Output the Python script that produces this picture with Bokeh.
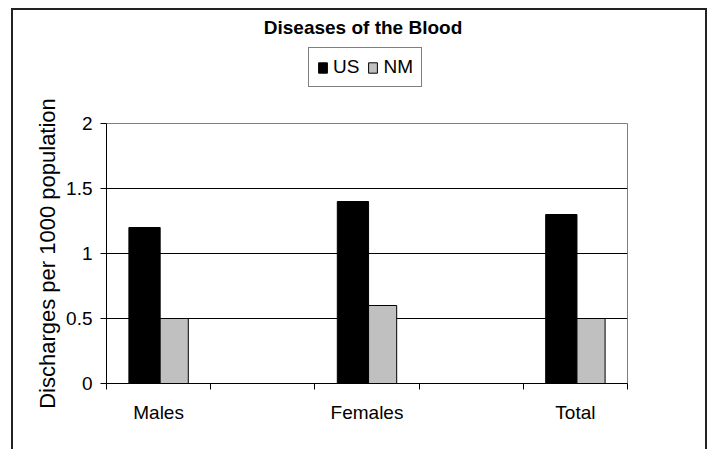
from bokeh.plotting import figure
from bokeh.layouts import column
from bokeh.models import (ColumnDataSource, FixedTicker, Legend, LegendItem,
                          Range1d, Label)
from bokeh.embed import file_html
from bokeh.resources import INLINE

# ---- data ----
categories = ["Males", "Females", "Total"]
us_values = [1.2, 1.4, 1.3]
nm_values = [0.5, 0.6, 0.5]
y_ticks = [0, 0.5, 1, 1.5, 2]
title_text = "Diseases of the Blood"
y_label = "Discharges per 1000 population"
series_names = ["US", "NM"]
series_colors = ["black", "#c0c0c0"]

FONT = "Liberation Sans"

# category slots: each category occupies 2 units, centred at 0.5, 2.5, 4.5
centers = [2 * i + 0.5 for i in range(len(categories))]
n_slots = 2 * len(categories) - 1
x_range = Range1d(0, n_slots)

src = ColumnDataSource(dict(
    x_us=[c - 0.135 for c in centers],
    x_nm=[c + 0.15 for c in centers],
    us=us_values,
    nm=nm_values,
))

# ---------------- header (title + legend) ----------------
HEAD_H = 80
head = figure(width=692, height=HEAD_H, output_backend="svg", toolbar_location=None,
              x_range=x_range, y_range=Range1d(-HEAD_H - 5, -5),
              x_axis_type=None, y_axis_type=None,
              min_border_left=93, min_border_right=78, min_border_top=0,
              min_border_bottom=0)
head.title = None
head.xgrid.grid_line_color = None
head.ygrid.grid_line_color = None
head.outline_line_color = None
head.background_fill_color = "white"
head.border_fill_color = "white"

# legend renderers: same bar styling, hidden in the header (only the legend shows)
h_us = head.vbar(x="x_us", top="us", width=0.3, source=src, visible=False,
                 fill_color=series_colors[0], line_color="black")
h_nm = head.vbar(x="x_nm", top="nm", width=0.27, source=src, visible=False,
                 fill_color=series_colors[1], line_color="black")

head.add_layout(Label(x=n_slots / 2, y=-22, x_offset=-4,
                      text=title_text, text_align="center", text_baseline="middle",
                      text_font=FONT, text_font_size="19px", text_font_style="bold",
                      text_color="black"))

legend = Legend(items=[LegendItem(label=series_names[0], renderers=[h_us]),
                       LegendItem(label=series_names[1], renderers=[h_nm])],
                orientation="horizontal", location=(202, 3),
                glyph_width=11, glyph_height=13, label_standoff=5, spacing=8,
                padding=8, margin=0, label_text_font=FONT,
                label_text_font_size="19px", label_text_color="black",
                border_line_color="black", border_line_width=1,
                background_fill_color="white", background_fill_alpha=1)
head.add_layout(legend, "center")

# ---------------- chart ----------------
p = figure(width=692, height=439 - HEAD_H, output_backend="svg", toolbar_location=None,
           x_range=x_range, y_range=Range1d(0, y_ticks[-1]),
           min_border_left=93, min_border_right=78, min_border_top=113 - HEAD_H,
           min_border_bottom=66)
p.background_fill_color = "white"
p.border_fill_color = "white"
p.outline_line_color = "#808080"
p.outline_line_width = 1

p.vbar(x="x_us", top="us", width=0.3, source=src,
       fill_color=series_colors[0], line_color="black", line_width=1)
p.vbar(x="x_nm", top="nm", width=0.27, source=src,
       fill_color=series_colors[1], line_color="black", line_width=1)

# y axis
p.yaxis.ticker = FixedTicker(ticks=y_ticks)
p.yaxis.major_label_overrides = {0: "0", 0.5: "0.5", 1: "1", 1.5: "1.5", 2: "2"}
p.yaxis.axis_label = y_label
p.yaxis.axis_label_text_font = FONT
p.yaxis.axis_label_text_font_size = "22px"
p.yaxis.axis_label_text_font_style = "normal"
p.yaxis.axis_label_text_color = "black"
p.yaxis.axis_label_standoff = 3
p.yaxis.major_label_text_font = FONT
p.yaxis.major_label_text_font_size = "19px"
p.yaxis.major_label_text_color = "black"
p.yaxis.major_label_standoff = 8
p.yaxis.major_tick_out = 6
p.yaxis.major_tick_in = 0
p.yaxis.minor_tick_line_color = None
p.yaxis.axis_line_color = "black"
p.yaxis.major_tick_line_color = "black"

# x axis: labels at category centres, tick marks between slots
p.xaxis.ticker = FixedTicker(ticks=centers, minor_ticks=list(range(n_slots + 1)))
p.xaxis.major_label_overrides = {c: name for c, name in zip(centers, categories)}
p.xaxis.major_label_text_font = FONT
p.xaxis.major_label_text_font_size = "19px"
p.xaxis.major_label_text_color = "black"
p.xaxis.major_label_standoff = 12
p.xaxis.major_tick_out = 0
p.xaxis.major_tick_in = 0
p.xaxis.minor_tick_out = 6
p.xaxis.minor_tick_in = 0
p.xaxis.minor_tick_line_color = "black"
p.xaxis.axis_line_color = "black"

# grid
p.xgrid.grid_line_color = None
p.ygrid.ticker = FixedTicker(ticks=y_ticks[1:-1])
p.ygrid.grid_line_color = "black"
p.ygrid.grid_line_width = 1

layout = column(head, p, spacing=0)
layout.styles = {"margin-left": "11px", "margin-top": "8px",
                 "border-left": "2px solid #222222", "border-top": "2px solid #222222",
                 "border-right": "2px solid #222222"}

open("out.html", "w").write(file_html(layout, INLINE))
